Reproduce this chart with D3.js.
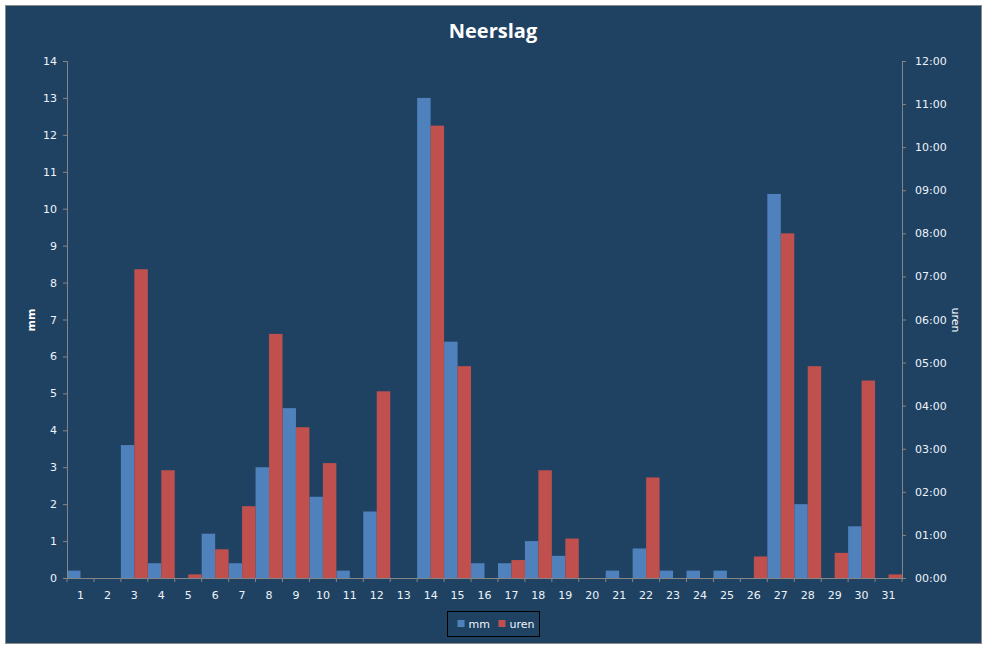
<!DOCTYPE html>
<html>
<head>
<meta charset="utf-8">
<script src="https://cdn.jsdelivr.net/npm/d3@7/dist/d3.min.js"></script>
<style>
  html, body { margin: 0; padding: 0; background: #fff; }
  svg { display: block; }
</style>
</head>
<body>
<svg id="chart" width="987" height="648"></svg>
<script>
  // Days of the month
  const days = d3.range(1, 32).map(String);

  // Neerslag in mm per dag
  const mmValues = [
    0.2, 0, 3.6, 0.4, 0, 1.2, 0.4, 3.0, 4.6, 2.2,
    0.2, 1.8, 0, 13.0, 6.4, 0.4, 0.4, 1.0, 0.6, 0,
    0.2, 0.8, 0.2, 0.2, 0.2, 0, 10.4, 2.0, 0, 1.4, 0
  ];

  // Duur neerslag (uu:mm) per dag
  const urenValues = [
    '00:00', '00:00', '07:10', '02:30', '00:05', '00:40', '01:40', '05:40', '03:30', '02:40',
    '00:00', '04:20', '00:00', '10:30', '04:55', '00:00', '00:25', '02:30', '00:55', '00:00',
    '00:00', '02:20', '00:00', '00:00', '00:00', '00:30', '08:00', '04:55', '00:35', '04:35', '00:05'
  ];

  const mmTicks = d3.range(0, 15);
  const urenTicks = d3.range(0, 13);

  const W = 987, H = 648;
  const margin = { top: 61, right: 85, bottom: 70, left: 67 };
  const BG = '#1f4263';
  const AXIS = '#868686';
  const TEXT = '#eef3fb';

  const toHours = (s) => {
    const p = s.split(':');
    return +p[0] + (+p[1]) / 60;
  };

  const svg = d3.select('#chart');

  // Chart area with border
  svg.append('rect')
    .attr('x', 5.5).attr('y', 5.5)
    .attr('width', W - 11).attr('height', H - 10)
    .attr('fill', BG)
    .attr('stroke', '#8a8a8a')
    .attr('stroke-width', 1);

  const innerW = W - margin.left - margin.right;
  const innerH = H - margin.top - margin.bottom;

  const g = svg.append('g').attr('transform', 'translate(' + margin.left + ',' + margin.top + ')');

  const x = d3.scaleBand().domain(days).range([0, innerW]).paddingInner(0).paddingOuter(0);
  const sub = d3.scaleBand().domain(['mm', 'uren']).range([0, x.bandwidth()]).padding(0);
  const yL = d3.scaleLinear().domain([0, 14]).range([innerH, 0]);
  const yR = d3.scaleLinear().domain([0, 12]).range([innerH, 0]);

  // Bars
  g.append('g').selectAll('rect')
    .data(mmValues)
    .join('rect')
    .attr('x', (d, i) => x(days[i]) + sub('mm'))
    .attr('y', (d) => yL(d))
    .attr('width', sub.bandwidth())
    .attr('height', (d) => innerH - yL(d))
    .attr('fill', '#4f81bd');

  g.append('g').selectAll('rect')
    .data(urenValues)
    .join('rect')
    .attr('x', (d, i) => x(days[i]) + sub('uren'))
    .attr('y', (d) => yR(toHours(d)))
    .attr('width', sub.bandwidth())
    .attr('height', (d) => innerH - yR(toHours(d)))
    .attr('fill', '#c0504d');

  function styleAxis(sel) {
    sel.selectAll('.domain').attr('stroke', AXIS);
    sel.selectAll('.tick line').attr('stroke', AXIS);
    sel.selectAll('text')
      .attr('fill', TEXT)
      .attr('font-family', '"DejaVu Sans", Verdana, sans-serif')
      .attr('font-size', '11px');
  }

  // Left axis
  const axL = g.append('g')
    .call(d3.axisLeft(yL).tickValues(mmTicks).tickSize(4).tickSizeOuter(4).tickPadding(6));
  styleAxis(axL);

  // Right axis
  const axR = g.append('g')
    .attr('transform', 'translate(' + innerW + ',0)')
    .call(d3.axisRight(yR).tickValues(urenTicks).tickSize(4).tickSizeOuter(4).tickPadding(9)
      .tickFormat((d) => d3.format('02d')(d) + ':00'));
  styleAxis(axR);

  // Bottom axis: ticks at category boundaries, labels centered
  const axB = g.append('g')
    .attr('transform', 'translate(0,' + innerH + ')')
    .call(d3.axisBottom(x).tickSize(0).tickSizeOuter(0).tickPadding(11));
  styleAxis(axB);
  axB.selectAll('.tick text').attr('dy', '0.9em');
  axB.append('g').selectAll('line')
    .data(days.concat(['end']))
    .join('line')
    .attr('x1', (d, i) => i * x.step())
    .attr('x2', (d, i) => i * x.step())
    .attr('y1', 0).attr('y2', 4)
    .attr('stroke', AXIS);

  // Title
  svg.append('text')
    .attr('x', 493).attr('y', 38)
    .attr('text-anchor', 'middle')
    .attr('fill', '#ffffff')
    .attr('font-family', '"Open Sans", sans-serif')
    .attr('font-weight', 700)
    .attr('font-size', '20px')
    .text('Neerslag');

  // Axis titles
  svg.append('text')
    .attr('transform', 'translate(35,320) rotate(-90)')
    .attr('text-anchor', 'middle')
    .attr('fill', '#ffffff')
    .attr('font-family', '"DejaVu Sans", sans-serif')
    .attr('font-weight', 700)
    .attr('font-size', '11px')
    .text('mm');

  svg.append('text')
    .attr('transform', 'translate(952,320) rotate(90)')
    .attr('text-anchor', 'middle')
    .attr('fill', '#ffffff')
    .attr('font-family', '"DejaVu Sans", sans-serif')
    .attr('font-size', '11px')
    .text('uren');

  // Legend
  const legendData = [
    { label: 'mm', color: '#4f81bd' },
    { label: 'uren', color: '#c0504d' }
  ];
  const legend = svg.append('g').attr('transform', 'translate(447.5,611.5)');
  legend.append('rect')
    .attr('width', 92).attr('height', 25)
    .attr('fill', BG)
    .attr('stroke', '#000')
    .attr('stroke-width', 1);
  const items = legend.selectAll('.item')
    .data(legendData)
    .join('g')
    .attr('class', 'item')
    .attr('transform', (d, i) => 'translate(' + (10 + i * 41) + ',0)');
  items.append('rect')
    .attr('x', 0).attr('y', 8.5)
    .attr('width', 7).attr('height', 7)
    .attr('fill', (d) => d.color);
  items.append('text')
    .attr('x', 11).attr('y', 16.5)
    .attr('fill', TEXT)
    .attr('font-family', '"DejaVu Sans", Verdana, sans-serif')
    .attr('font-size', '11px')
    .text((d) => d.label);
</script>
</body>
</html>
